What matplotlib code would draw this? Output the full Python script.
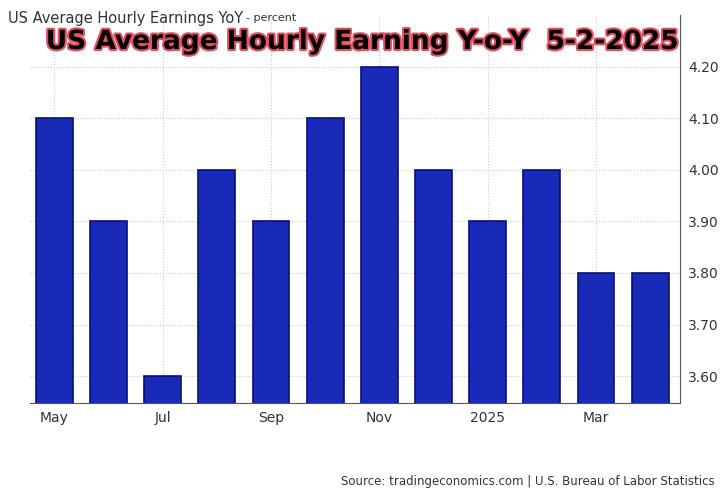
import matplotlib
matplotlib.use("Agg")
import matplotlib.pyplot as plt
import matplotlib.patheffects as pe

months = ["May","Jun","Jul","Aug","Sep","Oct","Nov","Dec","Jan","Feb","Mar","Apr"]
values = [4.1,3.9,3.6,4.0,3.9,4.1,4.2,4.0,3.9,4.0,3.8,3.8]
tick_idx = [0,2,4,6,8,10]
tick_labels = ["May","Jul","Sep","Nov","2025","Mar"]
yticks = [3.6,3.7,3.8,3.9,4.0,4.1,4.2]

fig = plt.figure(figsize=(7.25,4.93), dpi=100)
ax = fig.add_axes([30/725, 1-403/493, 650/725, (403-15)/493])
x = range(len(values))
ax.bar(x, values, width=0.68, color="#1a2ab8", edgecolor="#0a1070", linewidth=1.2, zorder=3)
ax.set_ylim(3.548, 4.30)
ax.set_xlim(-0.45, 11.55)
ax.yaxis.tick_right()
ax.set_yticks(yticks)
ax.set_yticklabels([f"{v:.2f}" for v in yticks], fontsize=10, color="#333333")
ax.set_xticks(tick_idx)
ax.set_xticklabels(tick_labels, fontsize=10, color="#333333")
ax.tick_params(length=0, pad=6)
ax.grid(True, color="#cccccc", linestyle=":", linewidth=0.8, zorder=0)
for s in ["top","left","bottom"]:
    ax.spines[s].set_visible(False)
ax.spines["right"].set_color("#555555")
ax.spines["bottom"].set_visible(True)
ax.spines["bottom"].set_color("#555555")

fig.text(8/725, 1-18/493, "US Average Hourly Earnings YoY", fontsize=10.5, color="#333333", va="center")
fig.text(246/725, 1-18/493, "- percent", fontsize=8, color="#333333", va="center")
fig.text(362/725, 1-42/493, "US Average Hourly Earning Y-o-Y  5-2-2025", fontsize=19, fontweight="bold",
         color="black", ha="center", va="center",
         path_effects=[pe.withStroke(linewidth=3, foreground="#e05060")])
fig.text(715/725, 1-481/493, "Source: tradingeconomics.com | U.S. Bureau of Labor Statistics",
         fontsize=8.5, color="#333333", ha="right", va="center")
fig.savefig("out.png", dpi=100)
